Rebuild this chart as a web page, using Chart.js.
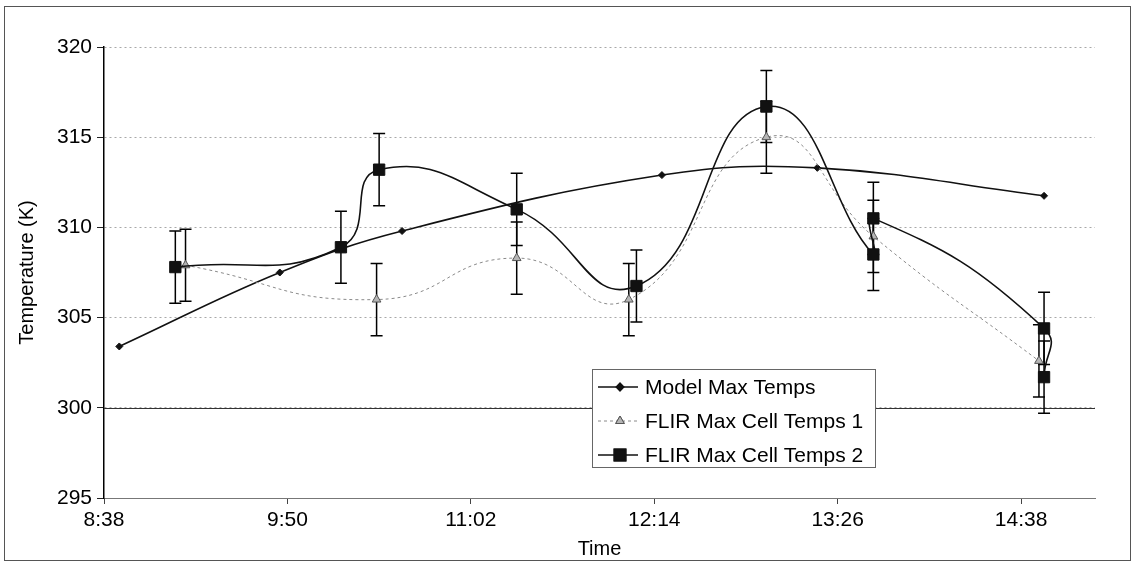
<!DOCTYPE html>
<html>
<head>
<meta charset="utf-8">
<script src="https://cdn.jsdelivr.net/npm/chart.js@4.4.1/dist/chart.umd.min.js"></script>
<style>
  html, body { margin: 0; background: #fff; }
  #wrap { width: 1134px; height: 564px; }
</style>
</head>
<body>
<div id="wrap"><canvas id="tempChart" width="1134" height="564"></canvas></div>
<script>
'use strict';

// ── Data ────────────────────────────────────────────────────────────────────
var xTickLabels = ['8:38', '9:50', '11:02', '12:14', '13:26', '14:38'];
var yTicks      = [295, 300, 305, 310, 315, 320];

var modelTimes = ['8:44', '9:47', '10:35', '12:17', '13:18', '14:47'];
var modelTemps = [303.4, 307.5, 309.8, 312.9, 313.3, 311.75];

var flir1Times = ['9:10', '10:25', '11:20', '12:04', '12:58', '13:40', '14:45'];
var flir1Temps = [307.9, 306.0, 308.3, 306.0, 315.0, 309.5, 302.6];
var flir1Err   = [2, 2, 2, 2, 2, 2, 2];

var flir2Times = ['9:06', '10:11', '10:26', '11:20', '12:07', '12:58', '13:40', '13:40', '14:47', '14:47'];
var flir2Temps = [307.8, 308.9, 313.2, 311.0, 306.75, 316.7, 308.5, 310.5, 304.4, 301.7];
var flir2Err   = [2, 2, 2, 2, 2, 2, 2, 2, 2, 2];

var X_MAX = '15:07';   // right end of the time axis

// ── Helpers ─────────────────────────────────────────────────────────────────
function toMin(hhmm) {
    var p = hhmm.split(':');
    return parseInt(p[0], 10) * 60 + parseInt(p[1], 10);
}

function toPoints(times, temps) {
    return times.map(function (t, i) { return { x: toMin(t), y: temps[i] }; });
}

var FONT = '"Liberation Sans", Arial, sans-serif';
Chart.defaults.font.family = FONT;
Chart.defaults.color = '#000';

// ── Plugins: error bars, 300 K line, legend box, outer frame ───────────────
var errorBars = {
    id: 'errorBars',
    beforeDatasetsDraw: function (chart) {
        var ctx = chart.ctx, xs = chart.scales.x, ys = chart.scales.y;
        ctx.save();
        // solid line at 300 K
        var y300 = Math.round(ys.getPixelForValue(300)) + 0.5;
        ctx.strokeStyle = '#333';
        ctx.lineWidth = 1;
        ctx.beginPath();
        ctx.moveTo(chart.chartArea.left, y300);
        ctx.lineTo(chart.chartArea.right, y300);
        ctx.stroke();

        chart.data.datasets.forEach(function (ds) {
            if (!ds.errors) { return; }
            ctx.strokeStyle = ds.errorColor || '#000';
            ctx.lineWidth = 1.5;
            ds.data.forEach(function (p, i) {
                var x = xs.getPixelForValue(p.x);
                var yt = ys.getPixelForValue(p.y + ds.errors[i]);
                var yb = ys.getPixelForValue(p.y - ds.errors[i]);
                ctx.beginPath();
                ctx.moveTo(x, yt); ctx.lineTo(x, yb);
                ctx.moveTo(x - 6, yt); ctx.lineTo(x + 6, yt);
                ctx.moveTo(x - 6, yb); ctx.lineTo(x + 6, yb);
                ctx.stroke();
            });
        });
        ctx.restore();
    }
};

var legendBox = {
    id: 'legendBox',
    afterDraw: function (chart) {
        var ctx = chart.ctx;
        var bx = 592, by = 369, bw = 283, bh = 98;
        ctx.save();
        ctx.fillStyle = '#fff';
        ctx.fillRect(bx, by, bw, bh);
        ctx.strokeStyle = '#666';
        ctx.lineWidth = 1;
        ctx.strokeRect(bx + 0.5, by + 0.5, bw, bh);

        ctx.font = '21px ' + FONT;
        ctx.textBaseline = 'middle';
        chart.data.datasets.forEach(function (ds, i) {
            var y = by + 18 + i * 34;
            ctx.strokeStyle = ds.borderColor;
            ctx.lineWidth = ds.borderWidth;
            ctx.setLineDash(ds.borderDash || []);
            ctx.beginPath();
            ctx.moveTo(bx + 6, y); ctx.lineTo(bx + 46, y);
            ctx.stroke();
            ctx.setLineDash([]);
            Chart.helpers.drawPoint(ctx, {
                pointStyle: ds.pointStyle,
                radius: ds.pointRadius,
                borderWidth: ds.pointBorderWidth || 1
            }, bx + 28, y);
            ctx.fillStyle = ds.pointBackgroundColor;
            ctx.strokeStyle = ds.pointBorderColor;
            ctx.fill();
            ctx.stroke();
            ctx.fillStyle = '#000';
            ctx.fillText(ds.label, bx + 53, y + 1);
        });
        ctx.restore();

        // outer frame
        ctx.save();
        ctx.strokeStyle = '#555';
        ctx.lineWidth = 1;
        ctx.strokeRect(4.5, 6.5, 1126, 554);
        ctx.restore();
    }
};

// ── Chart ──────────────────────────────────────────────────────────────────
new Chart(document.getElementById('tempChart').getContext('2d'), {
    type: 'line',
    data: {
        datasets: [
            {
                label: 'Model Max Temps',
                data: toPoints(modelTimes, modelTemps),
                borderColor: '#111',
                borderWidth: 1.6,
                tension: 0.4,
                pointStyle: 'rectRot',
                pointRadius: 3.5,
                pointBackgroundColor: '#111',
                pointBorderColor: '#111',
                pointBorderWidth: 1,
                order: 3
            },
            {
                label: 'FLIR Max Cell Temps 1',
                data: toPoints(flir1Times, flir1Temps),
                errors: flir1Err,
                borderColor: '#8a8a8a',
                borderWidth: 1,
                borderDash: [3, 3],
                tension: 0.5,
                pointStyle: 'triangle',
                pointRadius: 5,
                pointBackgroundColor: '#b5b5b5',
                pointBorderColor: '#555',
                pointBorderWidth: 1,
                order: 2
            },
            {
                label: 'FLIR Max Cell Temps 2',
                data: toPoints(flir2Times, flir2Temps),
                errors: flir2Err,
                borderColor: '#111',
                borderWidth: 1.6,
                tension: 0.5,
                pointStyle: 'rect',
                pointRadius: 8,
                pointBackgroundColor: '#111',
                pointBorderColor: '#111',
                pointBorderWidth: 1,
                order: 1
            }
        ]
    },
    options: {
        responsive: false,
        animation: false,
        layout: { padding: { top: 47, right: 39, left: 0, bottom: 0 } },
        plugins: {
            legend: { display: false },
            tooltip: { enabled: false }
        },
        scales: {
            x: {
                type: 'linear',
                min: toMin(xTickLabels[0]),
                max: toMin(X_MAX),
                afterBuildTicks: function (s) {
                    s.ticks = xTickLabels.map(function (l) { return { value: toMin(l) }; });
                },
                afterFit: function (s) { s.height = 66; },
                ticks: {
                    autoSkip: false,
                    maxRotation: 0,
                    padding: 4,
                    font: { size: 21 },
                    callback: function (v, i) { return xTickLabels[i]; }
                },
                grid: { drawOnChartArea: false, tickLength: 6, tickColor: '#444' },
                border: { color: '#777', width: 1 },
                title: { display: true, text: 'Time', font: { size: 20 }, padding: { top: 0, bottom: 3 } }
            },
            y: {
                min: yTicks[0],
                max: yTicks[yTicks.length - 1],
                afterBuildTicks: function (s) {
                    s.ticks = yTicks.map(function (v) { return { value: v }; });
                },
                afterFit: function (s) { s.width = 104; },
                ticks: { padding: 5, font: { size: 21 } },
                grid: { color: '#a8a8a8', tickLength: 7, tickColor: '#222', lineWidth: 1 },
                border: { color: '#000', width: 1.5, dash: [2, 3] },
                title: { display: true, text: 'Temperature (K)', font: { size: 20 }, padding: { top: 15, bottom: 0 } }
            }
        }
    },
    plugins: [errorBars, legendBox]
});
</script>
</body>
</html>
